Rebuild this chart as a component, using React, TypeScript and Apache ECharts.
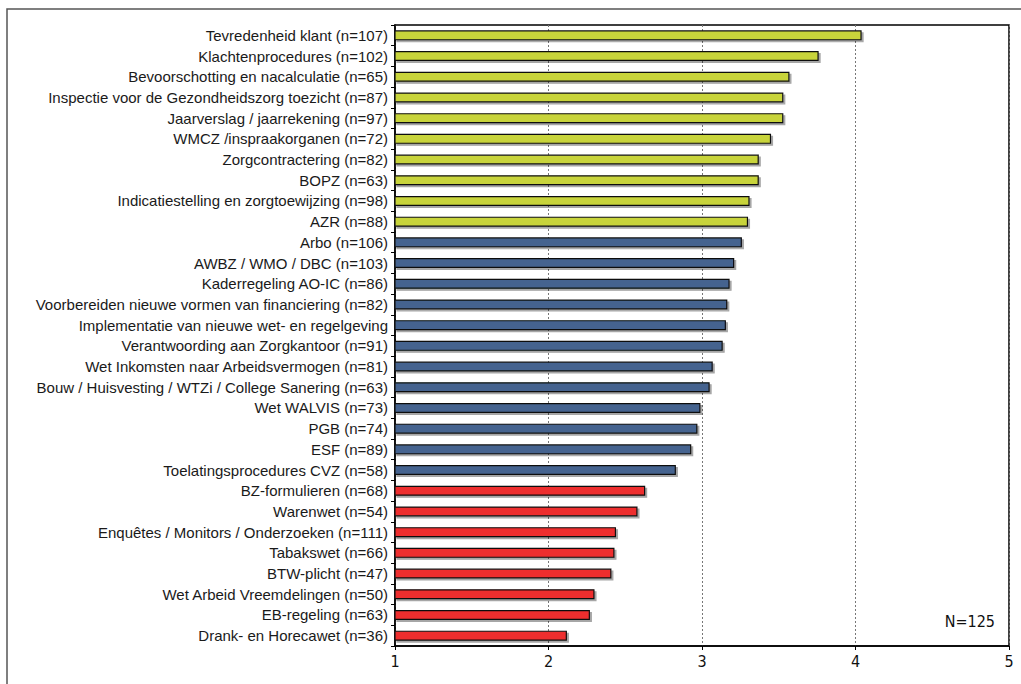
import React, { useEffect, useRef } from "react";
import * as echarts from "echarts";

const categories = [
  "Tevredenheid klant (n=107)",
  "Klachtenprocedures (n=102)",
  "Bevoorschotting en nacalculatie (n=65)",
  "Inspectie voor de Gezondheidszorg toezicht (n=87)",
  "Jaarverslag / jaarrekening (n=97)",
  "WMCZ /inspraakorganen (n=72)",
  "Zorgcontractering (n=82)",
  "BOPZ (n=63)",
  "Indicatiestelling en zorgtoewijzing (n=98)",
  "AZR (n=88)",
  "Arbo (n=106)",
  "AWBZ / WMO / DBC (n=103)",
  "Kaderregeling AO-IC (n=86)",
  "Voorbereiden nieuwe vormen van financiering (n=82)",
  "Implementatie van nieuwe wet- en regelgeving",
  "Verantwoording aan Zorgkantoor (n=91)",
  "Wet Inkomsten naar Arbeidsvermogen (n=81)",
  "Bouw / Huisvesting / WTZi / College Sanering (n=63)",
  "Wet WALVIS (n=73)",
  "PGB (n=74)",
  "ESF (n=89)",
  "Toelatingsprocedures CVZ (n=58)",
  "BZ-formulieren (n=68)",
  "Warenwet (n=54)",
  "Enquêtes / Monitors / Onderzoeken (n=111)",
  "Tabakswet (n=66)",
  "BTW-plicht (n=47)",
  "Wet Arbeid Vreemdelingen (n=50)",
  "EB-regeling (n=63)",
  "Drank- en Horecawet (n=36)",
];

const values = [
  4.04, 3.76, 3.57, 3.53, 3.53, 3.45, 3.37, 3.37, 3.31, 3.30,
  3.26, 3.21, 3.18, 3.165, 3.156, 3.135, 3.07, 3.05, 2.99, 2.97,
  2.93, 2.83, 2.63, 2.58, 2.44, 2.43, 2.41, 2.30, 2.27, 2.12,
];

// group per bar: 0 = green, 1 = blue, 2 = red
const groups = [
  0, 0, 0, 0, 0, 0, 0, 0, 0, 0,
  1, 1, 1, 1, 1, 1, 1, 1, 1, 1,
  1, 1, 2, 2, 2, 2, 2, 2, 2, 2,
];

const groupColors = ["#C8D43A", "#44648F", "#EE2E2E"];
const xTicks = [1, 2, 3, 4, 5];
const totalLabel = "N=125";

const SANS = "'Liberation Sans', Arial, Helvetica, sans-serif";
const NARROW = "'Liberation Sans Narrow', 'Arial Narrow', 'DejaVu Sans Condensed', sans-serif";

export default function App() {
  const ref = useRef<HTMLDivElement>(null);

  useEffect(() => {
    if (!ref.current) return;
    const chart = echarts.init(ref.current, null, { renderer: "svg" });
    chart.setOption({
      animation: false,
      backgroundColor: "#ffffff",
      textStyle: { fontFamily: SANS },
      grid: {
        left: 395,
        top: 25,
        right: 12,
        bottom: 38,
        show: true,
        borderColor: "#000",
        borderWidth: 1.5,
        backgroundColor: "transparent",
      },
      xAxis: {
        type: "value",
        min: xTicks[0],
        max: xTicks[xTicks.length - 1],
        interval: 1,
        axisLine: { show: true, lineStyle: { color: "#000", width: 1.5 } },
        axisTick: { show: true, length: 4, lineStyle: { color: "#000" } },
        axisLabel: {
          color: "#111",
          fontSize: 16,
          margin: 7,
          fontFamily: NARROW,
        },
        splitLine: {
          show: true,
          lineStyle: { color: "#777", type: [2, 2], width: 1 },
        },
      },
      yAxis: {
        type: "category",
        data: categories,
        inverse: true,
        axisLine: { show: true, lineStyle: { color: "#000", width: 1.5 } },
        axisTick: { show: true, length: 4, lineStyle: { color: "#000" } },
        axisLabel: {
          color: "#1a1a1a",
          fontSize: 15,
          margin: 7,
          fontFamily: SANS,
        },
        splitLine: { show: false },
      },
      series: [
        {
          type: "bar",
          data: values.map((v, i) => ({
            value: v,
            itemStyle: { color: groupColors[groups[i]] },
          })),
          barWidth: 10,
          itemStyle: {
            borderColor: "#111",
            borderWidth: 1.2,
            shadowColor: "rgba(0,0,0,0.35)",
            shadowOffsetX: 2,
            shadowOffsetY: 2,
            shadowBlur: 1,
          },
        },
      ],
      graphic: [
        {
          type: "rect",
          shape: { x: 7, y: 9, width: 1040, height: 700 },
          style: { fill: "none", stroke: "#555", lineWidth: 1.5 },
          silent: true,
          z: 100,
        },
        {
          type: "text",
          right: 26,
          top: 613,
          style: {
            text: totalLabel,
            fill: "#111",
            fontSize: 16,
            fontFamily: NARROW,
          },
          z: 100,
        },
      ],
    });
    return () => chart.dispose();
  }, []);

  return (
    <div
      ref={ref}
      style={{ position: "fixed", left: 0, top: 0, width: 1021, height: 684 }}
    />
  );
}
